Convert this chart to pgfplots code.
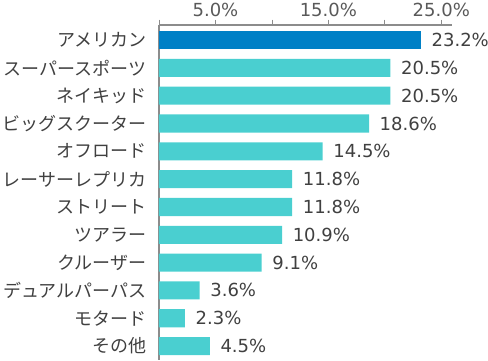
\documentclass[border=0pt]{standalone}
\usepackage{pgfplots}
\pgfplotsset{compat=1.18}
\usepackage{fontspec}
\setmainfont{DejaVu Sans}
\newfontfamily\jp{Noto Sans CJK JP}
\definecolor{dark}{HTML}{0080C6}
\definecolor{teal}{HTML}{4ACFD0}
\definecolor{txt}{HTML}{404040}
\definecolor{tick}{HTML}{595959}
\definecolor{axl}{HTML}{8C8C8C}
\begin{document}
\begin{tikzpicture}
\begin{axis}[
  name=ax,
  scale only axis,
  width=219.75pt, height=251.25pt,
  xbar, bar width=0.65,
  y dir=reverse,
  xmin=0, xmax=25.95,
  ymin=-0.54, ymax=11.5,
  axis x line*=top, axis y line*=left,
  axis line style={axl, line width=0.8pt},
  every outer x axis line/.append style={-},
  every outer y axis line/.append style={-},
  xtick={0,5,10,15,20,25},
  xticklabels={,5.0\%,,15.0\%,,25.0\%},
  tick align=outside,
  major tick length=4pt,
  x tick style={axl, line width=0.6pt},
  ytick={0,...,11},
  yticklabels={アメリカン,スーパースポーツ,ネイキッド,ビッグスクーター,オフロード,レーサーレプリカ,ストリート,ツアラー,クルーザー,デュアルパーパス,モタード,その他},
  y tick style={draw=none},
  y tick label style={font=\fontsize{13.5}{16}\selectfont\jp, text=txt, xshift=-2pt},
  x tick label style={font=\fontsize{13.5}{16}\selectfont, text=tick, yshift=-1pt},
  /pgf/number format/assume math mode=true,
  point meta=x,
  nodes near coords={\pgfmathprintnumber[fixed,fixed zerofill,precision=1]{\pgfplotspointmeta}\%},
  every node near coord/.append style={font=\fontsize{13.5}{16}\selectfont, text=txt, anchor=west, xshift=4.5pt},
  clip=false,
]
\addplot[fill=dark, draw=none, bar shift=0pt] coordinates {(23.2,0)};
\addplot[fill=teal, draw=none, bar shift=0pt] coordinates {
(20.5,1) (20.5,2) (18.6,3) (14.5,4) (11.8,5) (11.8,6) (10.9,7) (9.1,8) (3.6,9) (2.3,10) (4.5,11)};
\end{axis}
\pgfresetboundingbox
\path ([xshift=-119.25pt, yshift=18.75pt]ax.north west) rectangle ([xshift=246.75pt]ax.south west);
\end{tikzpicture}
\end{document}
